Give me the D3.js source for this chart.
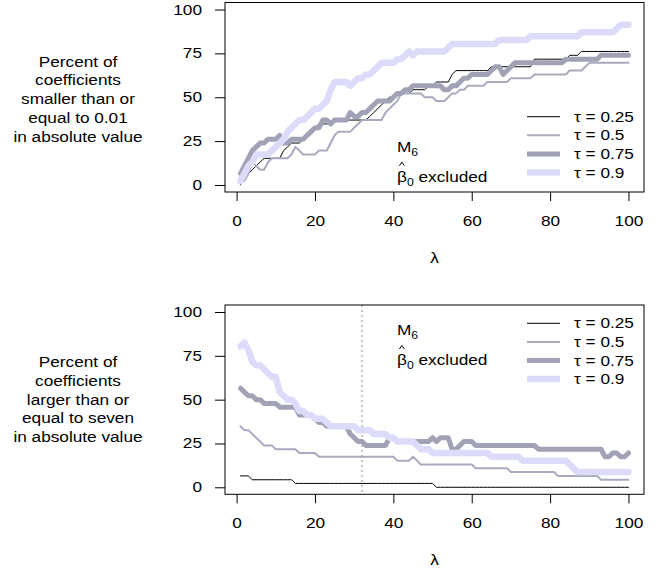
<!DOCTYPE html>
<html>
<head>
<meta charset="utf-8">
<script src="https://cdn.jsdelivr.net/npm/d3@7"></script>
<style>
  body { margin: 0; background: #ffffff; }
  svg { display: block; }
</style>
</head>
<body>
<svg id="chart" width="668" height="572"></svg>
<script>
// Shrinkage paths over the penalty grid, one curve per quantile level.
const lambda = [1,2,3,4,5,6,7,8,9,10,11,12,13,14,15,16,17,18,19,20,
  21,22,23,24,25,26,27,28,29,30,31,32,33,34,35,36,37,38,39,40,
  41,42,43,44,45,46,47,48,49,50,51,52,53,54,55,56,57,58,59,60,
  61,62,63,64,65,66,67,68,69,70,71,72,73,74,75,76,77,78,79,80,
  81,82,83,84,85,86,87,88,89,90,91,92,93,94,95,96,97,98,99,100];

const xTicks = [0, 20, 40, 60, 80, 100];
const yTicks = [0, 25, 50, 75, 100];

const tauLabels = ["τ = 0.25", "τ = 0.5", "τ = 0.75", "τ = 0.9"];

// Percent of coefficients with |beta| <= 0.01
const smallTau25 = [
  0,4.3,6.5,8.7,10.9,13.0,15.2,15.2,15.2,15.2,
  15.2,19.6,21.7,23.9,23.9,23.9,26.1,28.3,30.4,32.6,
  34.8,34.8,34.8,34.8,37.0,37.0,37.0,37.0,37.0,37.0,
  37.0,37.0,37.0,39.1,41.3,43.5,45.7,47.8,50.0,50.0,
  52.2,52.2,52.2,52.2,54.3,54.3,54.3,54.3,56.5,56.5,
  58.7,58.7,58.7,58.7,63.0,65.2,65.2,65.2,65.2,65.2,
  65.2,65.2,65.2,65.2,67.4,67.4,67.4,67.4,67.4,67.4,
  67.4,67.4,67.4,67.4,67.4,71.7,71.7,71.7,71.7,71.7,
  71.7,71.7,71.7,71.7,73.9,73.9,73.9,76.1,76.1,76.1,
  76.1,76.1,76.1,76.1,76.1,76.1,76.1,76.1,76.1,76.1];
const smallTau50 = [
  2.2,2.2,6.5,13.0,10.9,8.7,8.7,13.0,15.2,15.2,
  15.2,15.2,15.2,17.4,21.7,19.6,17.4,17.4,17.4,17.4,
  19.6,19.6,19.6,23.9,28.3,30.4,30.4,30.4,30.4,32.6,
  34.8,37.0,37.0,37.0,37.0,37.0,37.0,41.3,43.5,45.7,
  47.8,52.2,52.2,52.2,52.2,52.2,52.2,50.0,50.0,50.0,
  47.8,47.8,47.8,50.0,52.2,52.2,54.3,54.3,56.5,56.5,
  56.5,56.5,56.5,58.7,58.7,58.7,58.7,58.7,58.7,60.9,
  60.9,60.9,60.9,60.9,60.9,63.0,63.0,63.0,63.0,63.0,
  63.0,63.0,63.0,63.0,65.2,65.2,65.2,65.2,67.4,69.6,
  69.6,69.6,69.6,69.6,69.6,69.6,69.6,69.6,69.6,69.6];
const smallTau75 = [
  6.5,10.9,15.2,19.6,21.7,23.9,23.9,26.1,26.1,26.1,
  28.3,23.9,23.9,26.1,26.1,26.1,26.1,28.3,30.4,32.6,
  32.6,37.0,37.0,34.8,37.0,37.0,37.0,37.0,41.3,39.1,
  39.1,41.3,41.3,43.5,45.7,47.8,47.8,47.8,47.8,50.0,
  52.2,52.2,54.3,54.3,56.5,56.5,56.5,56.5,56.5,56.5,
  56.5,56.5,54.3,54.3,56.5,56.5,58.7,60.9,60.9,63.0,
  63.0,63.0,63.0,63.0,65.2,67.4,67.4,63.0,65.2,67.4,
  69.6,69.6,69.6,69.6,69.6,69.6,69.6,69.6,69.6,69.6,
  69.6,69.6,69.6,71.7,71.7,71.7,71.7,71.7,71.7,71.7,
  71.7,71.7,73.9,73.9,73.9,73.9,73.9,73.9,73.9,73.9];
const smallTau90 = [
  2.2,6.5,10.9,13.0,17.4,17.4,17.4,17.4,19.6,21.7,
  23.9,26.1,30.4,32.6,34.8,37.0,37.0,39.1,41.3,43.5,
  43.5,45.7,47.8,54.3,58.7,58.7,58.7,58.7,56.5,58.7,
  60.9,60.9,63.0,63.0,65.2,67.4,69.6,69.6,69.6,69.6,
  71.7,71.7,73.9,76.1,73.9,76.1,76.1,76.1,76.1,76.1,
  76.1,76.1,76.1,78.3,80.4,80.4,80.4,80.4,80.4,80.4,
  80.4,80.4,80.4,80.4,80.4,80.4,82.6,82.6,82.6,82.6,
  82.6,82.6,82.6,82.6,84.8,84.8,84.8,84.8,84.8,84.8,
  84.8,84.8,84.8,84.8,84.8,84.8,84.8,87.0,87.0,87.0,
  87.0,87.0,87.0,87.0,87.0,87.0,89.1,91.3,91.3,91.3];

// Percent of coefficients with |beta| >= 7
const largeTau25 = [
  6.5,6.5,6.5,4.3,4.3,4.3,4.3,4.3,4.3,4.3,
  4.3,4.3,4.3,4.3,2.2,2.2,2.2,2.2,2.2,2.2,
  2.2,2.2,2.2,2.2,2.2,2.2,2.2,2.2,2.2,2.2,
  2.2,2.2,2.2,2.2,2.2,2.2,2.2,2.2,2.2,2.2,
  2.2,2.2,2.2,2.2,2.2,2.2,2.2,2.2,2.2,2.2,
  0,0,0,0,0,0,0,0,0,0,
  0,0,0,0,0,0,0,0,0,0,
  0,0,0,0,0,0,0,0,0,0,
  0,0,0,0,0,0,0,0,0,0,
  0,0,0,0,0,0,0,0,0,0];
const largeTau50 = [
  34.8,32.6,32.6,30.4,28.3,26.1,23.9,23.9,23.9,21.7,
  21.7,21.7,21.7,21.7,21.7,19.6,19.6,19.6,19.6,19.6,
  17.4,17.4,17.4,17.4,17.4,17.4,17.4,17.4,17.4,17.4,
  17.4,17.4,17.4,17.4,17.4,17.4,17.4,17.4,17.4,17.4,
  15.2,15.2,15.2,15.2,17.4,15.2,13.0,13.0,13.0,13.0,
  13.0,13.0,13.0,13.0,13.0,13.0,13.0,13.0,13.0,13.0,
  10.9,10.9,10.9,10.9,10.9,10.9,10.9,10.9,10.9,8.7,
  8.7,8.7,8.7,8.7,8.7,8.7,8.7,8.7,8.7,8.7,
  8.7,6.5,6.5,6.5,6.5,6.5,6.5,6.5,6.5,6.5,
  6.5,6.5,4.3,4.3,4.3,4.3,4.3,4.3,4.3,4.3];
const largeTau75 = [
  56.5,54.3,52.2,52.2,50.0,50.0,47.8,47.8,47.8,47.8,
  45.7,45.7,45.7,45.7,45.7,41.3,41.3,41.3,41.3,39.1,
  37.0,37.0,34.8,34.8,34.8,34.8,34.8,34.8,30.4,28.3,
  26.1,26.1,23.9,23.9,23.9,23.9,23.9,23.9,28.3,28.3,
  26.1,26.1,26.1,26.1,26.1,26.1,26.1,26.1,26.1,28.3,
  26.1,28.3,28.3,28.3,21.7,21.7,23.9,26.1,26.1,26.1,
  23.9,23.9,23.9,23.9,23.9,23.9,23.9,23.9,23.9,23.9,
  23.9,23.9,23.9,23.9,23.9,23.9,21.7,21.7,21.7,21.7,
  21.7,21.7,21.7,21.7,21.7,21.7,21.7,21.7,21.7,21.7,
  21.7,21.7,21.7,17.4,17.4,19.6,19.6,17.4,17.4,19.6];
const largeTau90 = [
  80.4,82.6,78.3,71.7,69.6,69.6,67.4,65.2,63.0,63.0,
  54.3,52.2,50.0,50.0,47.8,43.5,43.5,41.3,41.3,39.1,
  39.1,39.1,37.0,34.8,34.8,34.8,34.8,34.8,34.8,34.8,
  32.6,32.6,32.6,32.6,30.4,30.4,30.4,30.4,28.3,28.3,
  26.1,26.1,26.1,26.1,26.1,23.9,21.7,21.7,21.7,19.6,
  19.6,19.6,19.6,19.6,19.6,19.6,19.6,19.6,19.6,19.6,
  19.6,19.6,19.6,19.6,17.4,17.4,17.4,17.4,17.4,17.4,
  17.4,17.4,15.2,15.2,15.2,15.2,15.2,15.2,15.2,15.2,
  15.2,15.2,15.2,15.2,13.0,10.9,8.7,8.7,8.7,8.7,
  8.7,8.7,8.7,8.7,8.7,8.7,8.7,8.7,8.7,8.7];

const selectedLambda = 32;

const smallLabel = ["Percent of", "coefficients", "smaller than or", "equal to 0.01", "in absolute value"];
const largeLabel = ["Percent of", "coefficients", "larger than or", "equal to seven", "in absolute value"];

// ---- styling ----
const FONT = "'Liberation Sans', Arial, Helvetica, sans-serif";
const SX = 1.23;          // horizontal text stretch
const FS = 14;
const tauColors = ["#000000", "#a9a9bf", "#a2a2b6", "#dcdcfa"];
const tauWidths = [1, 2, 5, 6.5];

const boxLeft = 225, boxRight = 644;

const panels = [
  { top: 2.5, bottom: 192, series: [smallTau25, smallTau50, smallTau75, smallTau90],
    label: smallLabel, labelBase: 66.5, legendTop: 116.7, noteBase: 151.7, cutoff: null },
  { top: 305, bottom: 494.3, series: [largeTau25, largeTau50, largeTau75, largeTau90],
    label: largeLabel, labelBase: 367, legendTop: 323.3, noteBase: 335, cutoff: selectedLambda }
];

const svg = d3.select("#chart");
svg.append("rect").attr("width", 668).attr("height", 572).attr("fill", "#fff");

function stretchedText(g, x, y, s, anchor, size) {
  return g.append("text")
    .attr("transform", `translate(${x},${y}) scale(${SX},1)`)
    .attr("text-anchor", anchor || "start")
    .attr("font-family", FONT)
    .attr("font-size", size || FS)
    .attr("fill", "#000")
    .text(s);
}

const xScaleDomain = [1 - 0.04 * 99, 100 + 0.04 * 99];

panels.forEach(p => {
  const g = svg.append("g");
  const x = d3.scaleLinear().domain(xScaleDomain).range([boxLeft, boxRight]);
  const y = d3.scaleLinear().domain([-4, 104]).range([p.bottom, p.top]);

  // reference line at the chosen penalty
  if (p.cutoff !== null) {
    g.append("line")
      .attr("x1", x(p.cutoff)).attr("x2", x(p.cutoff))
      .attr("y1", p.top).attr("y2", p.bottom)
      .attr("stroke", "#b4b4b4").attr("stroke-width", 1.5)
      .attr("stroke-dasharray", "2,3");
  }

  // curves
  const line = d3.line().x((d, i) => x(lambda[i])).y(d => y(d));
  p.series.forEach((s, k) => {
    g.append("path")
      .attr("d", line(s))
      .attr("fill", "none")
      .attr("stroke", tauColors[k])
      .attr("stroke-width", tauWidths[k])
      .attr("stroke-linejoin", "round")
      .attr("stroke-linecap", "round");
  });

  // frame
  g.append("rect")
    .attr("x", boxLeft).attr("y", p.top)
    .attr("width", boxRight - boxLeft).attr("height", p.bottom - p.top)
    .attr("fill", "none").attr("stroke", "#000").attr("stroke-width", 1);

  // y axis
  const ya = g.append("g").attr("transform", `translate(${boxLeft},0)`)
    .call(d3.axisLeft(y).tickValues(yTicks).tickSize(10).tickFormat(d3.format("d")));
  ya.select(".domain").remove();
  ya.attr("font-family", FONT).attr("font-size", FS);
  ya.selectAll(".tick text").attr("x", -23 / SX).attr("transform", `scale(${SX},1)`).attr("fill", "#000");

  // x axis
  const xa = g.append("g").attr("transform", `translate(0,${p.bottom})`)
    .call(d3.axisBottom(x).tickValues(xTicks).tickSize(9).tickPadding(15).tickFormat(d3.format("d")));
  xa.select(".domain").remove();
  xa.attr("font-family", FONT).attr("font-size", FS);
  xa.selectAll(".tick text").attr("transform", `scale(${SX},1)`).attr("fill", "#000");

  // axis title
  stretchedText(g, (boxLeft + boxRight) / 2, p.bottom + 71, "λ", "middle");

  // multi-line y title
  p.label.forEach((s, i) => {
    stretchedText(g, 78, p.labelBase + i * 18.8, s, "middle");
  });

  // legend
  tauLabels.forEach((s, k) => {
    const ly = p.legendTop + k * 18.6;
    g.append("line")
      .attr("x1", 527).attr("x2", 560).attr("y1", ly).attr("y2", ly)
      .attr("stroke", tauColors[k]).attr("stroke-width", tauWidths[k]);
    stretchedText(g, 574, ly + 5, s, "start");
  });

  // model annotation: M with subscript 6, then beta-hat with subscript 0
  const nx = 397;
  const m = stretchedText(g, nx, p.noteBase, "", "start");
  m.append("tspan").text("M");
  m.append("tspan").attr("font-size", 10).attr("dy", 4).text("6");

  const bBase = p.noteBase + 30;
  const b = stretchedText(g, nx, bBase, "", "start");
  b.append("tspan").text("β");
  b.append("tspan").attr("font-size", 10).attr("dy", 4).text("0");
  b.append("tspan").attr("dy", -4).text(" excluded");
  // circumflex accent over the beta
  g.append("path")
    .attr("d", `M${nx + 2.4},${bBase - 16} L${nx + 4.9},${bBase - 19.5} L${nx + 7.4},${bBase - 16}`)
    .attr("fill", "none").attr("stroke", "#000").attr("stroke-width", 1);
});
</script>
</body>
</html>
